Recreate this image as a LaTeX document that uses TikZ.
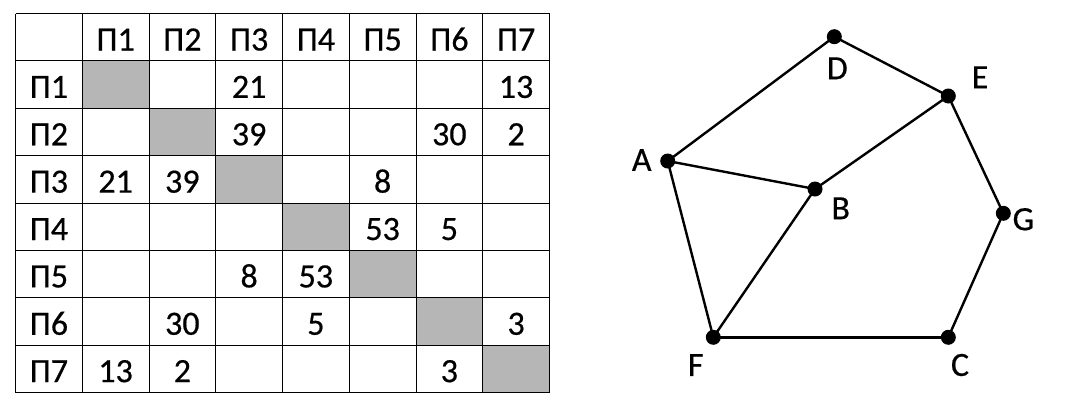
\documentclass[tikz,border=0pt]{standalone}
\usepackage{fontspec}
\newfontfamily\tabfont{Carlito}[FakeBold=0.5]
\definecolor{cellgray}{RGB}{182,182,182}
\begin{document}
\begin{tikzpicture}[x=1pt,y=-1pt,
  font=\tabfont\fontsize{34}{40}\selectfont,
  gridline/.style={line width=1.1pt,black},
  celltext/.style={anchor=base,inner sep=0pt},
  vertex/.style={circle,fill=black,inner sep=0pt,minimum size=15pt},
  vlabel/.style={inner sep=0pt,anchor=center},
  edge/.style={line width=2.4pt,black}]
\useasboundingbox (0,0) rectangle (1075,405);
\def\cw{66.75}
\def\rh{47.375}
\def\xo{15.5}
\def\yo{13.5}
% gray diagonal cells
\foreach \k in {1,...,7}{
  \fill[cellgray] (\xo+\k*\cw,\yo+\k*\rh) rectangle (\xo+\k*\cw+\cw,\yo+\k*\rh+\rh);
}
% grid
\foreach \k in {0,...,8}{
  \pgfmathsetmacro{\gx}{round(\xo-0.5+\k*\cw)+0.5}
  \pgfmathsetmacro{\gy}{round(\yo-0.5+\k*\rh)+0.5}
  \draw[gridline] (\gx,\yo) -- (\gx,\yo+8*\rh);
  \draw[gridline] (\xo,\gy) -- (\xo+8*\cw,\gy);
}
% headers
\foreach \k in {1,...,7}{
  \node[celltext] (h\k) at (\xo+\k*\cw+0.5*\cw,\yo+37) {П\k};
  \node[celltext] (r\k) at (\xo+0.5*\cw,\yo+\k*\rh+37) {П\k};
}
% values: row/col/value
\foreach \r/\c/\v in {1/3/21,1/7/13,
                      2/3/39,2/6/30,2/7/2,
                      3/1/21,3/2/39,3/5/8,
                      4/5/53,4/6/5,
                      5/3/8,5/4/53,
                      6/2/30,6/4/5,6/7/3,
                      7/1/13,7/2/2,7/6/3}{
  \node[celltext] (c\r-\c) at (\xo+\c*\cw+0.5*\cw,\yo+\r*\rh+37) {\v};
}
% graph vertices
\node[vertex] (D) at (834.3,36.7) {};
\node[vertex] (E) at (948.3,96) {};
\node[vertex] (A) at (667.7,161) {};
\node[vertex] (B) at (815,189) {};
\node[vertex] (G) at (1003.3,213.3) {};
\node[vertex] (F) at (713.3,337.3) {};
\node[vertex] (C) at (948.3,337.3) {};
% edges
\draw[edge] (A.center) -- (D.center);
\draw[edge] (D.center) -- (E.center);
\draw[edge] (E.center) -- (B.center);
\draw[edge] (A.center) -- (B.center);
\draw[edge] (A.center) -- (F.center);
\draw[edge] (B.center) -- (F.center);
\draw[edge] (F.center) -- (C.center);
\draw[edge] (C.center) -- (G.center);
\draw[edge] (G.center) -- (E.center);
% labels
\node[vlabel] (lD) at (837.3,68.3) {D};
\node[vlabel] (lE) at (980,77.3) {E};
\node[vlabel] (lA) at (641.7,160) {A};
\node[vlabel] (lB) at (840.7,208.3) {B};
\node[vlabel] (lG) at (1023.3,219.3) {G};
\node[vlabel] (lF) at (695.7,365) {F};
\node[vlabel] (lC) at (960,365) {C};
\end{tikzpicture}
\end{document}
